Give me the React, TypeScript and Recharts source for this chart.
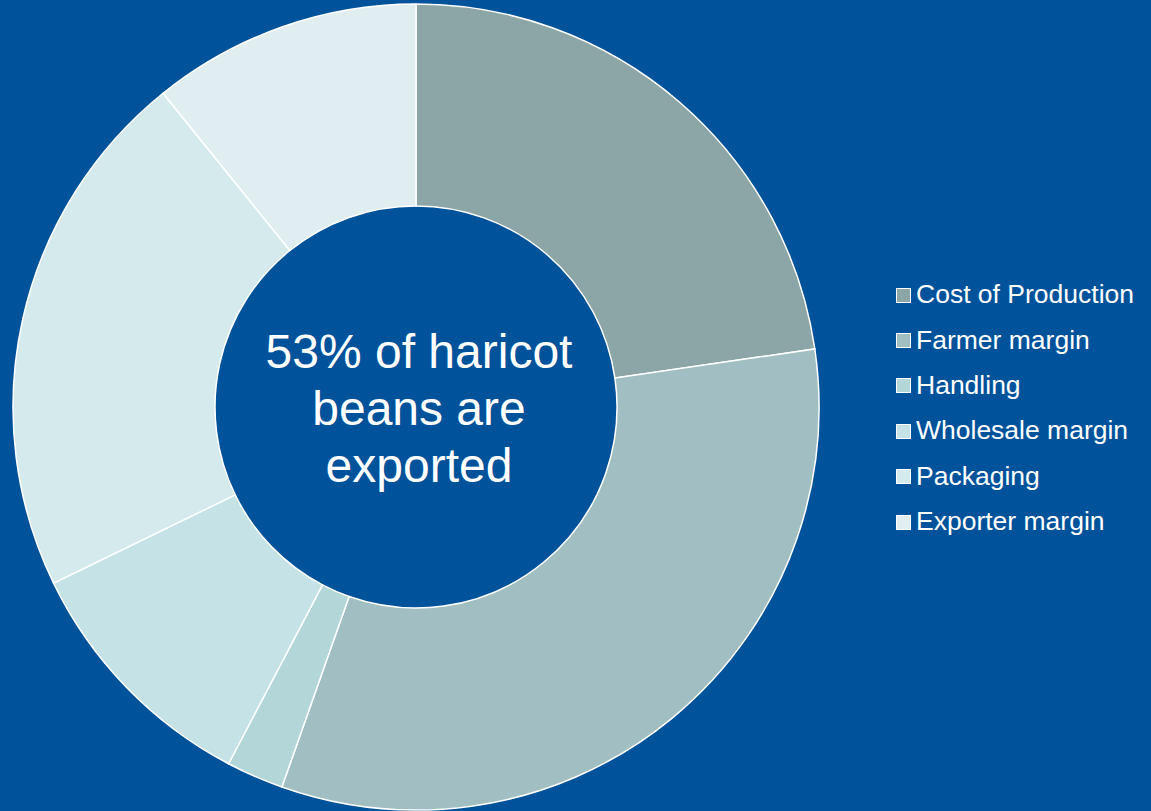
import { PieChart, Pie, Cell, Legend, Label } from 'recharts'

// cost breakdown of haricot beans, share of export price (%)
const categories = ['Cost of Production', 'Farmer margin', 'Handling', 'Wholesale margin', 'Packaging', 'Exporter margin']
const shares = [22.7, 32.7, 2.3, 10.1, 21.4, 10.8]
const colors = ['#8CA5A7', '#A1BFC2', '#B3D6D9', '#C5E3E6', '#D4EAEC', '#E0EEF2']
const centerLines = ['53% of haricot', 'beans are', 'exported']

const data = categories.map((name, i) => ({ name, value: shares[i] }))

const FONT = '"Liberation Sans", Arial, sans-serif'

function CenterText({ viewBox }: any) {
  const cx = (viewBox?.cx ?? 416) + 3
  const cy = viewBox?.cy ?? 407
  return (
    <text x={cx} y={cy} textAnchor="middle" fill="#fff" fontFamily={FONT} fontSize={48}>
      {centerLines.map((line, i) => (
        <tspan key={line} x={cx} y={cy - 39 + i * 57}>{line}</tspan>
      ))}
    </text>
  )
}

// keep the legend in slice order (recharts sorts it by name otherwise)
function LegendList() {
  return (
    <div style={{ fontFamily: FONT, fontSize: 26.5, color: '#fff' }}>
      {categories.map((c, i) => (
        <div key={c} style={{ display: 'flex', alignItems: 'center', height: 45.4 }}>
          <span style={{
            display: 'inline-block', width: 13, height: 13, background: colors[i],
            border: '1px solid #fff', marginRight: 5, marginTop: 1
          }} />
          <span>{c}</span>
        </div>
      ))}
    </div>
  )
}

export default function App() {
  return (
    <div style={{ position: 'fixed', left: 0, top: 0, width: 1151, height: 811, background: '#00529B' }}>
      <PieChart width={1151} height={811} margin={{ top: 0, right: 0, bottom: 0, left: 0 }}>
        <Pie
          data={data}
          dataKey="value"
          nameKey="name"
          cx={416}
          cy={407}
          innerRadius={201}
          outerRadius={403}
          startAngle={90}
          endAngle={-270}
          stroke="#fff"
          strokeWidth={1.5}
          isAnimationActive={false}
        >
          {data.map((d, i) => (
            <Cell key={d.name} fill={colors[i]} />
          ))}
          <Label position="center" content={<CenterText />} />
        </Pie>
        <Legend
          layout="vertical"
          content={<LegendList />}
          wrapperStyle={{ position: 'absolute', left: 896, top: 272, width: 255 }}
        />
      </PieChart>
    </div>
  )
}
